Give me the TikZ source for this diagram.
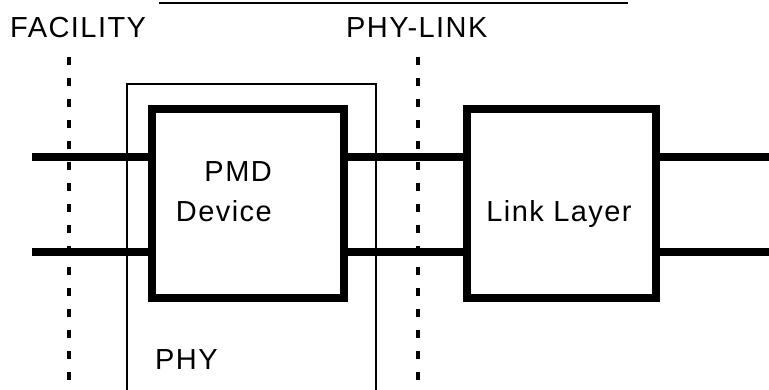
\documentclass[tikz,border=0pt]{standalone}
\usepackage{fontspec}
\setmainfont{Liberation Sans}[LetterSpace=5]
\usetikzlibrary{positioning}

\begin{document}
\begin{tikzpicture}[x=1pt, y=-1pt,
      every node/.style={font=\fontsize{29}{40}\selectfont, inner sep=0pt},
      block/.style={draw, line width=7.5pt, minimum height=189pt},
      wire/.style={line width=7.5pt},
      boundary/.style={line width=3.4pt, dash pattern=on 8pt off 13pt}]
    \useasboundingbox (0,0) rectangle (769,390);
    \draw[line width=1.7pt] (159,3) -- (628,3);
    \node[anchor=base west] (facility) at (10,38) {FACILITY};
    \node[anchor=base west] (phylink) at (346,38) {PHY-LINK};
    \coordinate (facTop) at (69,57);
    \coordinate (facBot) at (69,390);
    \coordinate (linkTop) at (418,57);
    \coordinate (linkBot) at (418,390);
    \draw[boundary] (facTop) -- (facBot);
    \draw[boundary] (linkTop) -- (linkBot);
    \draw[line width=1.4pt] (127,390) |- (376,84) -- (376,390);
    \node[anchor=base west] (phy) at (155,370) {PHY};
    \node[block, minimum width=192pt] (pmd) at (248,203.5) {};
    \node[block, minimum width=189pt] (link) at (561.5,203.5) {};
    \node[anchor=base east, align=right] (pmdtxt) at (272,222) {PMD\\Device};
    \node[anchor=base] (linktxt) at (559,222) {Link Layer};
    \coordinate (inA) at (32,157);
    \coordinate (inB) at (32,252);
    \coordinate (outA) at (769,157);
    \coordinate (outB) at (769,252);
    \draw[wire] (inA) -- (inA -| pmd.west);
    \draw[wire] (inB) -- (inB -| pmd.west);
    \draw[wire] (inA -| pmd.east) -- (inA -| link.west);
    \draw[wire] (inB -| pmd.east) -- (inB -| link.west);
    \draw[wire] (outA -| link.east) -- (outA);
    \draw[wire] (outB -| link.east) -- (outB);
  \end{tikzpicture}
\end{document}
